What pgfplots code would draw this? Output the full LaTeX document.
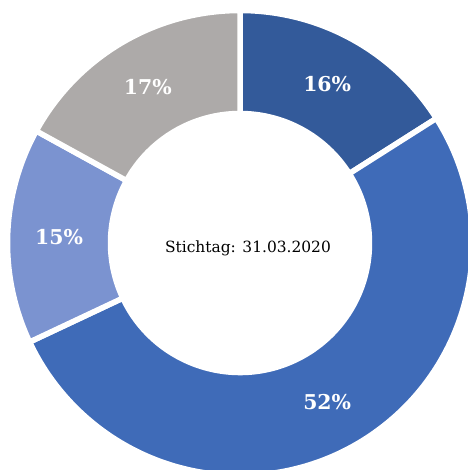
\documentclass[border=0pt]{standalone}
\usepackage{fontspec}
\usepackage{pgfplots}
\usepackage{pgfplotstable}
\pgfplotsset{compat=1.18}
\setmainfont{DejaVu Serif}

\definecolor{sliceA}{HTML}{335A9A}
\definecolor{sliceB}{HTML}{3F6BB8}
\definecolor{sliceC}{HTML}{7B93D0}
\definecolor{sliceD}{HTML}{ADAAA9}

% shares in percent, clockwise from 12 o'clock
\pgfplotstableread{
share color
16 sliceA
52 sliceB
15 sliceC
17 sliceD
}\donut

\begin{document}
\begin{tikzpicture}
\useasboundingbox (0,0) rectangle (468bp,470bp);
\clip (0,0) rectangle (468bp,470bp);
\begin{axis}[
    at={(0,0)}, anchor=south west,
    scale only axis,
    x=1bp, y=1bp,
    xmin=0, xmax=468, ymin=0, ymax=470,
    hide axis,
]
\addplot[draw=none] coordinates {(0,0) (468,470)};
\def\cum{0}
\pgfplotsforeachungrouped \i in {0,...,3}{
    \pgfplotstablegetelem{\i}{share}\of\donut \let\v\pgfplotsretval
    \pgfplotstablegetelem{\i}{color}\of\donut \let\c\pgfplotsretval
    \pgfmathsetmacro\aS{90-3.6*\cum}
    \pgfmathsetmacro\aE{90-3.6*(\cum+\v)}
    \pgfmathsetmacro\aM{(\aS+\aE)/2}
    \pgfmathsetmacro\aB{\aE+180}
    \pgfmathsetmacro\cum{\cum+\v}
    \edef\temp{%
        \noexpand\fill[\c, draw=white, line width=5.5bp]
            (axis cs:240,227) ++(\aS:232.5bp)
            arc[start angle=\aS, end angle=\aE, radius=232.5bp]
            -- ++(\aB:103bp)
            arc[start angle=\aE, end angle=\aS, radius=129.5bp] -- cycle;
        \noexpand\node[text=white, font=\noexpand\bfseries\noexpand\fontsize{20.5}{22}\noexpand\selectfont]
            at ([shift={(\aM:181bp)}]axis cs:240,227) {\v\noexpand\%};
    }
    \temp
}
\node[font=\fontsize{15.5}{17}\selectfont] at (axis cs:248,222) {Stichtag: 31.03.2020};
\end{axis}
\end{tikzpicture}
\end{document}
